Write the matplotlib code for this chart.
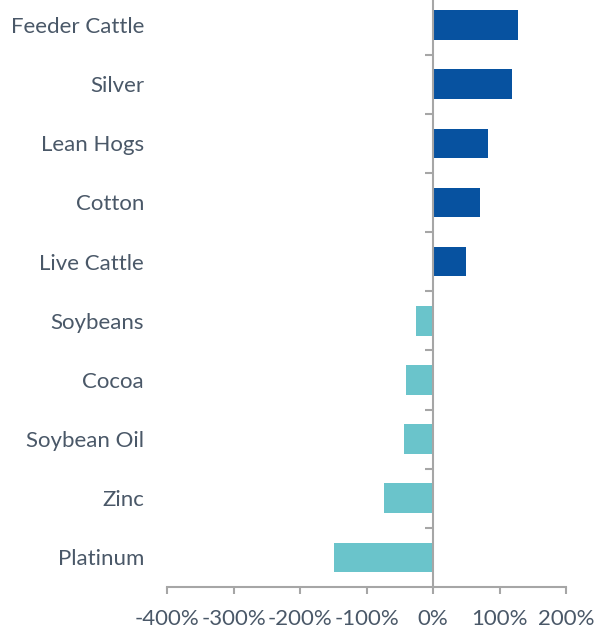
import matplotlib.pyplot as plt
from matplotlib.ticker import FixedLocator, PercentFormatter

# Change in positioning by commodity
commodities = ["Feeder Cattle", "Silver", "Lean Hogs", "Cotton", "Live Cattle",
               "Soybeans", "Cocoa", "Soybean Oil", "Zinc", "Platinum"]
change_pct = [128, 119, 83, 71, 50, -25, -40, -43, -73, -149]
x_ticks = [-400, -300, -200, -100, 0, 100, 200]

pos_color = "#0752a0"
neg_color = "#6ac4cb"
axis_color = "#a6a6a6"
text_color = "#4a5868"

plt.rcParams["font.family"] = ["Lato", "DejaVu Sans"]
plt.rcParams["axes.unicode_minus"] = False

fig = plt.figure(figsize=(5.96, 6.30), dpi=100)
ax = fig.add_axes([167 / 596, 43 / 630, 399 / 596, 591.6 / 630])

ypos = list(range(len(commodities)))
colors = [pos_color if v > 0 else neg_color for v in change_pct]
ax.barh(ypos, change_pct, height=0.5, color=colors, zorder=2)

ax.set_xlim(-400, 200)
ax.set_ylim(len(commodities) - 0.5, -0.5)

for side in ["top", "right"]:
    ax.spines[side].set_visible(False)
ax.spines["left"].set_position(("data", 0))
for side in ["left", "bottom"]:
    ax.spines[side].set_color(axis_color)
    ax.spines[side].set_linewidth(1.5)

# category labels sit at the far left, tick marks on the zero line
ax.set_yticks(ypos)
ax.set_yticklabels(commodities)
ax.yaxis.set_minor_locator(FixedLocator([i + 0.5 for i in ypos[:-1]]))
ax.tick_params(axis="y", which="major", length=0, pad=208,
               labelsize=16, labelcolor=text_color)
ax.tick_params(axis="y", which="minor", length=5.5, width=1.5,
               color=axis_color, direction="out")

ax.set_xticks(x_ticks)
ax.xaxis.set_major_formatter(PercentFormatter(decimals=0))
ax.tick_params(axis="x", length=5, width=1.5, color=axis_color,
               direction="out", pad=11, labelsize=16, labelcolor=text_color)

fig.savefig("out.png", dpi=100)
